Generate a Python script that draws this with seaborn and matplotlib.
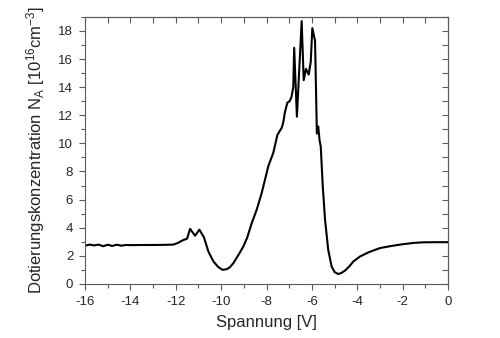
import matplotlib
matplotlib.use("Agg")
import matplotlib.pyplot as plt
from matplotlib.ticker import MultipleLocator
import seaborn as sns
import pandas as pd

# Measured doping profile: bias voltage [V] and acceptor concentration [1e16 cm^-3]
voltage = [-16.0, -15.8, -15.6, -15.4, -15.2, -15.0, -14.8, -14.6, -14.4, -14.2,
           -14.0, -13.5, -13.0, -12.5, -12.1, -11.9, -11.7, -11.5, -11.37, -11.15,
           -10.96, -10.76, -10.56, -10.34, -10.12, -9.93, -9.75, -9.61, -9.46, -9.17,
           -9.02, -8.85, -8.65, -8.43, -8.21, -7.92, -7.7, -7.52, -7.41, -7.33,
           -7.26, -7.19, -7.08, -6.98, -6.9, -6.82, -6.78, -6.66, -6.45, -6.36,
           -6.26, -6.14, -6.05, -5.98, -5.86, -5.78, -5.72, -5.66, -5.61, -5.52,
           -5.42, -5.28, -5.13, -5.0, -4.84, -4.7, -4.54, -4.35, -4.17, -3.88,
           -3.5, -3.0, -2.5, -1.97, -1.5, -1.09, -0.5, 0.0]
na = [2.72, 2.80, 2.74, 2.80, 2.68, 2.79, 2.70, 2.79, 2.72, 2.77,
      2.76, 2.77, 2.77, 2.78, 2.80, 2.92, 3.10, 3.22, 3.92, 3.43,
      3.86, 3.33, 2.30, 1.60, 1.19, 1.00, 1.05, 1.19, 1.48, 2.24,
      2.67, 3.30, 4.33, 5.29, 6.48, 8.38, 9.33, 10.6, 10.9, 11.1,
      11.5, 12.2, 12.9, 13.0, 13.3, 14.0, 16.8, 11.9, 18.7, 14.5,
      15.3, 14.9, 15.8, 18.2, 17.3, 10.7, 11.2, 10.2, 9.8, 6.95,
      4.57, 2.43, 1.24, 0.85, 0.70, 0.78, 0.95, 1.25, 1.60, 1.95,
      2.25, 2.55, 2.70, 2.83, 2.92, 2.96, 2.97, 2.97]
x_ticks = [-16, -14, -12, -10, -8, -6, -4, -2, 0]
y_ticks = [0, 2, 4, 6, 8, 10, 12, 14, 16, 18]

df = pd.DataFrame({"Spannung": voltage, "NA": na})

sns.set_style("ticks")
plt.rcParams["font.family"] = ["Liberation Sans", "DejaVu Sans"]
plt.rcParams["mathtext.default"] = "regular"
plt.rcParams["axes.unicode_minus"] = False

frame = "#5a5a5a"

fig = plt.figure(figsize=(5.0, 3.38), dpi=100)
ax = fig.add_axes([0.17, 0.16, 0.726, 0.79])

sns.lineplot(data=df, x="Spannung", y="NA", color="black", linewidth=1.5,
             estimator=None, ax=ax)

ax.set_xlim(-16, 0)
ax.set_ylim(0, 19)
ax.set_xticks(x_ticks)
ax.set_yticks(y_ticks)
ax.xaxis.set_minor_locator(MultipleLocator(1))
ax.yaxis.set_minor_locator(MultipleLocator(1))

for s in ax.spines.values():
    s.set_visible(True)
    s.set_color(frame)
    s.set_linewidth(0.8)

# bottom / left: outward ticks with labels
ax.tick_params(which="both", direction="out", color=frame, width=0.8,
               labelsize=9.5, pad=4.5)
ax.tick_params(which="major", length=4)
ax.tick_params(which="minor", length=3)

# top / right: inward ticks, no labels
top = ax.secondary_xaxis("top")
top.set_xticks(x_ticks)
top.xaxis.set_minor_locator(MultipleLocator(1))
top.tick_params(which="both", direction="in", color=frame, width=0.8,
                labeltop=False, length=4.5)
top.spines["top"].set_color(frame)
top.spines["top"].set_linewidth(0.8)

right = ax.secondary_yaxis("right")
right.set_yticks(y_ticks)
right.yaxis.set_minor_locator(MultipleLocator(1))
right.tick_params(which="both", direction="in", color=frame, width=0.8,
                  labelright=False, length=4.5)
right.spines["right"].set_color(frame)
right.spines["right"].set_linewidth(0.8)

ax.set_xlabel("Spannung [V]", fontsize=12, labelpad=5)
ax.set_ylabel("Dotierungskonzentration N$_A$ [10$^{16}$cm$^{-3}$]",
              fontsize=12, labelpad=8)

fig.savefig("out.png", dpi=100)
